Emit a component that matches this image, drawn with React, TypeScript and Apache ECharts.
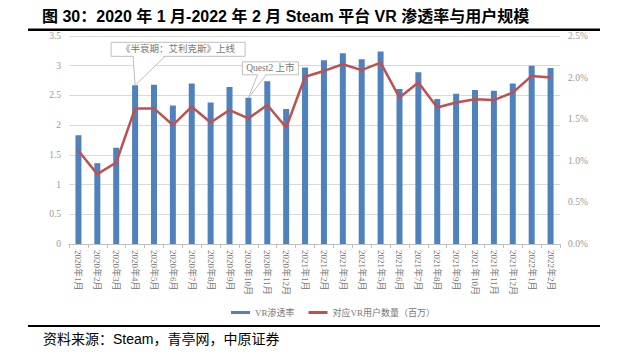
import React, { useEffect, useRef } from "react";
import * as echarts from "echarts";

const categories = [
  "2020年1月", "2020年2月", "2020年3月", "2020年4月", "2020年5月", "2020年6月",
  "2020年7月", "2020年8月", "2020年9月", "2020年10月", "2020年11月", "2020年12月",
  "2021年1月", "2021年2月", "2021年3月", "2021年4月", "2021年5月", "2021年6月",
  "2021年7月", "2021年8月", "2021年9月", "2021年10月", "2021年11月", "2021年12月",
  "2022年1月", "2022年2月",
];

const barValues = [
  1.83, 1.36, 1.62, 2.67, 2.68, 2.33, 2.70, 2.38, 2.64, 2.46, 2.74, 2.27,
  2.97, 3.09, 3.21, 3.11, 3.24, 2.61, 2.89, 2.44, 2.53, 2.59, 2.58, 2.70,
  3.00, 2.96,
];

const lineValues = [
  1.12, 0.84, 0.98, 1.63, 1.63, 1.43, 1.65, 1.46, 1.61, 1.51, 1.67, 1.40,
  2.01, 2.08, 2.16, 2.09, 2.18, 1.76, 1.94, 1.64, 1.70, 1.74, 1.73, 1.82,
  2.02, 2.00,
];

const barName = "VR渗透率";
const lineName = "对应VR用户数量（百万）";
const titleText = "图 30：2020 年 1 月-2022 年 2 月 Steam 平台 VR 渗透率与用户规模";
const sourceText = "资料来源：Steam，青亭网，中原证券";
const notes = [
  { index: 3, text: "《半衰期：艾利克斯》上线" },
  { index: 9, text: "Quest2 上市" },
];

export default function App() {
  const ref = useRef<HTMLDivElement>(null);

  useEffect(() => {
    if (!ref.current) return;
    const chart = echarts.init(ref.current, null, { renderer: "svg" });
    const axisFont = "'Liberation Serif', 'Noto Sans CJK SC', serif";
    chart.setOption({
      animation: false,
      backgroundColor: "#ffffff",
      title: {
        text: titleText,
        left: 37,
        top: 3,
        textStyle: {
          fontSize: 16,
          fontWeight: "bold",
          color: "#000",
          fontFamily: "'Liberation Sans', 'Noto Sans CJK SC', sans-serif",
        },
      },
      grid: { left: 69, right: 71, top: 36, bottom: 113 },
      legend: {
        top: 303,
        left: 226,
        icon: "rect",
        itemWidth: 19,
        itemHeight: 3,
        itemGap: 14,
        itemStyle: {},
        textStyle: { fontSize: 9, color: "#777", fontFamily: axisFont },
        data: [barName, lineName],
      },
      xAxis: {
        type: "category",
        data: categories,
        boundaryGap: true,
        axisLine: { lineStyle: { color: "#bfbfbf" } },
        axisTick: { show: true, length: 4, lineStyle: { color: "#bfbfbf" } },
        axisLabel: {
          rotate: -90,
          fontSize: 9,
          color: "#777",
          margin: 6,
          interval: 0,
          fontFamily: axisFont,
        },
      },
      yAxis: [
        {
          type: "value",
          min: 0,
          max: 3.5,
          interval: 0.5,
          axisLine: { show: false },
          axisTick: { show: false },
          splitLine: { lineStyle: { color: "#d9d9d9" } },
          axisLabel: {
            fontSize: 9.5,
            color: "#999",
            margin: 8,
            fontFamily: axisFont,
            formatter: (v: number) => (Number.isInteger(v) ? String(v) : v.toFixed(1)),
          },
        },
        {
          type: "value",
          min: 0,
          max: 2.5,
          interval: 0.5,
          axisLine: { show: false },
          axisTick: { show: false },
          splitLine: { show: false },
          axisLabel: {
            fontSize: 9.5,
            color: "#999",
            margin: 8,
            fontFamily: axisFont,
            formatter: (v: number) => v.toFixed(1) + "%",
          },
        },
      ],
      series: [
        {
          name: barName,
          type: "bar",
          yAxisIndex: 0,
          data: barValues,
          barWidth: 6,
          itemStyle: { color: "#4f81bd" },
        },
        {
          name: lineName,
          type: "line",
          yAxisIndex: 1,
          data: lineValues,
          symbol: "none",
          lineStyle: { color: "#c0504d", width: 2.5 },
          itemStyle: { color: "#c0504d" },
          z: 5,
        },
      ],
    });

    const graphics: any[] = [
      { type: "rect", shape: { x: 28, y: 28.5, width: 572, height: 2.5 }, style: { fill: "#000" } },
      { type: "rect", shape: { x: 28, y: 325, width: 572, height: 2 }, style: { fill: "#000" } },
      {
        type: "text",
        x: 43,
        y: 332,
        style: {
          text: sourceText,
          fontSize: 14,
          fill: "#000",
          fontFamily: "'Liberation Sans', 'Noto Sans CJK SC', sans-serif",
        },
      },
    ];

    const layouts = [
      { dx: -24, dy: -43, w: 134, h: 14, b1: -2, b2: 30 },
      { dx: -6, dy: -36, w: 56, h: 13, b1: 9, b2: 18 },
    ];
    notes.forEach((n, i) => {
      const p = chart.convertToPixel({ seriesIndex: 0 }, [n.index, barValues[n.index]]) as number[];
      const L = layouts[i];
      const bx = p[0] + L.dx;
      const by = p[1] + L.dy;
      const bottom = by + L.h;
      graphics.push(
        {
          type: "rect",
          z: 100,
          shape: { x: bx, y: by, width: L.w, height: L.h },
          style: { fill: "#fff", stroke: "#bfbfbf", lineWidth: 1 },
        },
        {
          type: "polygon",
          z: 101,
          shape: { points: [[p[0] + L.b1 + 0.5, bottom - 1], [p[0], p[1]], [p[0] + L.b2 - 0.5, bottom - 1]] },
          style: { fill: "#fff" },
        },
        {
          type: "polyline",
          z: 102,
          shape: { points: [[p[0] + L.b1, bottom], [p[0], p[1]], [p[0] + L.b2, bottom]] },
          style: { stroke: "#bfbfbf", lineWidth: 1, fill: "none" },
        },
        {
          type: "text",
          z: 103,
          x: bx + L.w / 2,
          y: by + L.h / 2,
          style: {
            text: n.text,
            fontSize: 9.5,
            fill: "#777",
            align: "center",
            verticalAlign: "middle",
            fontFamily: axisFont,
          },
        }
      );
    });
    chart.setOption({ graphic: graphics });

    return () => chart.dispose();
  }, []);

  return (
    <div
      ref={ref}
      style={{ position: "fixed", left: 0, top: 0, width: 631, height: 357, background: "#fff" }}
    />
  );
}
